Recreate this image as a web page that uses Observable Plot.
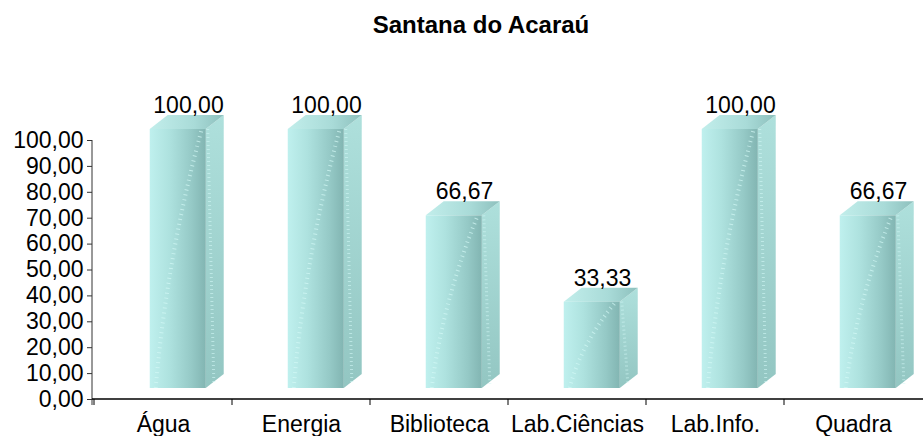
<!DOCTYPE html>
<html><head><meta charset="utf-8">
<script src="https://cdn.jsdelivr.net/npm/d3@7"></script>
<script src="https://cdn.jsdelivr.net/npm/@observablehq/plot@0.6"></script>
<style>
body{margin:0;background:#fff;font-family:"Liberation Sans",Arial,sans-serif;}
#title{height:50px;box-sizing:border-box;padding-top:12px;padding-left:39px;text-align:center;font-weight:bold;font-size:24px;line-height:26px;color:#000;}
#chart svg{display:block;}
</style></head><body>
<div id="title">Santana do Acaraú</div>
<div id="chart"></div>
<script>
const categories = ["Água", "Energia", "Biblioteca", "Lab.Ciências", "Lab.Info.", "Quadra"];
const shares = [100, 100, 66.67, 33.33, 100, 66.67];
const yTicks = [0, 10, 20, 30, 40, 50, 60, 70, 80, 90, 100];

const data = categories.map((c, i) => ({cat: c, v: shares[i]}));
const fmt = v => v.toFixed(2).replace(".", ",");

function bars3d(index, scales, channels, dimensions) {
  const x = scales.x, y = scales.y;
  const bw = typeof x.bandwidth === "function" ? x.bandwidth() : (x(categories[1]) - x(categories[0]));
  const g = d3.create("svg:g");
  const defs = g.append("defs");
  const lg = (id, x2, y2, stops) => {
    const l = defs.append("linearGradient").attr("id", id).attr("x1", 0).attr("y1", 0).attr("x2", x2).attr("y2", y2);
    stops.forEach(([o, c]) => l.append("stop").attr("offset", o).attr("stop-color", c));
  };
  lg("gFront", 1, 0, [[0, "#bff0ee"], [0.35, "#aee2df"], [0.75, "#95c9c6"], [1, "#82b5b2"]]);
  lg("gSide", 0, 1, [[0, "#aee0dc"], [1, "#93c6c2"]]);
  lg("gTop", 1, 0, [[0, "#c2eeeb"], [0.6, "#a9dbd8"], [1, "#8dc0bd"]]);
  const off = 11, dz = 14;
  data.forEach((d, i) => {
    const b = x(d.cat);
    const x0 = b + 0.404 * bw, x1 = b + 0.81 * bw, dx = 0.13 * bw;
    const yb = y(0) - off, yt = y(d.v) - off;
    g.append("path")
      .attr("d", `M${x1},${yt}L${x1 + dx},${yt - dz}L${x1 + dx},${yb - dz}L${x1},${yb}Z`)
      .attr("fill", "url(#gSide)");
    g.append("path")
      .attr("d", `M${x1 + 2},${yt}L${x1 + dx * 0.45},${yb - 4}`)
      .attr("stroke", "#d2f8f6").attr("stroke-width", 3).attr("stroke-dasharray", "1,3").attr("opacity", 0.6);
    g.append("path")
      .attr("d", `M${x0},${yt}L${x0 + dx},${yt - dz}L${x1 + dx},${yt - dz}L${x1},${yt}Z`)
      .attr("fill", "url(#gTop)");
    g.append("rect")
      .attr("x", x0).attr("y", yt).attr("width", x1 - x0).attr("height", yb - yt)
      .attr("fill", "url(#gFront)");
    const cid = "clip" + i;
    defs.append("clipPath").attr("id", cid).append("rect")
      .attr("x", x0).attr("y", yt).attr("width", x1 - x0).attr("height", yb - yt);
    g.append("path")
      .attr("clip-path", `url(#${cid})`)
      .attr("d", `M${x0 + 6},${yb}Q${x0 + (x1 - x0) * 0.3},${(yb + yt) / 2} ${x1 - 4},${yt}`)
      .attr("fill", "none").attr("stroke", "#d4f9f7").attr("stroke-width", 4)
      .attr("stroke-dasharray", "1,4").attr("opacity", 0.7);
  });
  return g.node();
}

function axesLines(index, scales, channels, dimensions) {
  const x = scales.x, y = scales.y;
  const g = d3.create("svg:g");
  const left = dimensions.marginLeft, right = dimensions.width - dimensions.marginRight;
  g.append("line").attr("x1", left).attr("x2", left).attr("y1", y(100)).attr("y2", y(0) + 6)
    .attr("stroke", "#333").attr("stroke-width", 1);
  g.append("line").attr("x1", left).attr("x2", right).attr("y1", y(0)).attr("y2", y(0))
    .attr("stroke", "#000").attr("stroke-width", 1.6);
  categories.forEach(c => {
    const tx = x(c);
    g.append("line").attr("x1", tx).attr("x2", tx).attr("y1", y(0)).attr("y2", y(0) + 6)
      .attr("stroke", "#000").attr("stroke-width", 1);
  });
  return g.node();
}

const chart = Plot.plot({
  width: 923,
  height: 386,
  marginLeft: 92,
  marginRight: 0,
  marginTop: 90,
  marginBottom: 37,
  style: {fontFamily: "'Liberation Sans', Arial, sans-serif", fontSize: "23px", color: "#000", background: "#fff"},
  x: {type: "band", domain: categories, paddingInner: 0, paddingOuter: 0, align: 0.5, label: null},
  y: {domain: [0, 100], label: null},
  marks: [
    Plot.axisY(yTicks, {tickSize: 5, tickPadding: 4, tickFormat: fmt, label: null, stroke: "#333"}),
    Plot.axisX({tickSize: 0, tickPadding: 16, label: null}),
    bars3d,
    axesLines,
    Plot.text(data, {x: "cat", y: "v", text: d => fmt(d.v), dx: 25, dy: -35, fill: "#000"})
  ]
});
document.getElementById("chart").appendChild(chart);
</script>
</body></html>
